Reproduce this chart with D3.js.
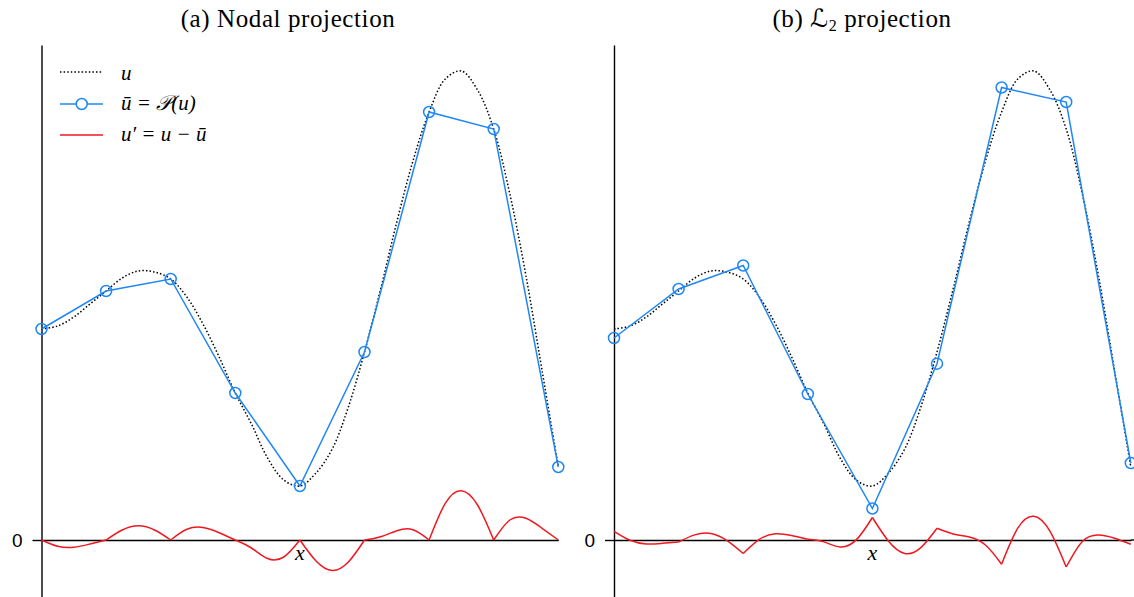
<!DOCTYPE html>
<html><head><meta charset="utf-8">
<script src="https://cdn.jsdelivr.net/npm/d3@7"></script>
<style>body{margin:0;background:#fff}svg{display:block}</style>
</head><body><svg id="c" width="1134" height="597"></svg>
<script>
// ---- data (y in arbitrary units, 0 = x-axis) ----
const panelTitles = ["(a) Nodal projection", "(b) ℒ₂ projection"];
const legendLabels = ["u", "ū = 𝒫(u)", "u′ = u − ū"];
const yTickValues = [0];
const yTickLabels = ["0"];
const xAxisLabel = "x";
const nodeX = [0, 1, 2, 3, 4, 5, 6, 7, 8];
const sampleX = [0, 0.25, 0.5, 0.75, 1, 1.25, 1.5, 1.75, 2, 2.25, 2.5, 2.75, 3, 3.25, 3.5, 3.75,
  4, 4.25, 4.5, 4.75, 5, 5.25, 5.5, 5.75, 6, 6.25, 6.5, 6.75, 7, 7.25, 7.5, 7.75, 8];
const uExact = [2.11, 2.14, 2.23, 2.36, 2.49, 2.62, 2.69, 2.68, 2.61, 2.43, 2.16, 1.83, 1.47, 1.16, 0.82, 0.60,
  0.54, 0.67, 0.91, 1.33, 1.88, 2.51, 3.18, 3.79, 4.28, 4.61, 4.69, 4.50, 4.11, 3.46, 2.64, 1.69, 0.73];
const nodalProjection = [2.11, 2.49, 2.61, 1.47, 0.54, 1.88, 4.28, 4.11, 0.73];
const l2Projection = [2.02, 2.51, 2.745, 1.46, 0.315, 1.763, 4.525, 4.38, 0.77];
const nodalResidual = [0, -0.063, -0.073, -0.04, 0, 0.10, 0.142, 0.10, 0, 0.107, 0.125, 0.073, 0, -0.08, -0.185, -0.17,
  0, -0.21, -0.305, -0.22, 0, 0.033, 0.093, 0.103, 0, 0.367, 0.493, 0.35, 0, 0.20, 0.217, 0.117, 0];
const l2Residual = [0.087, -0.003, -0.04, -0.033, -0.02, 0.051, 0.065, -0.006, -0.135, 0.007, 0.062, 0.045, 0.007, -0.019, -0.069, 0.001,
  0.225, -0.012, -0.134, -0.076, 0.117, 0.061, 0.031, -0.05, -0.242, 0.118, 0.238, 0.087, -0.27, -0.014, 0.05, 0.018, -0.043];

// ---- drawing ----
const BLUE = "#1f87f5", RED = "#f01820";
const SERIF = "'Liberation Serif', 'DejaVu Serif', serif";
const MATH = "'Liberation Serif', 'DejaVu Serif', 'DejaVu Sans', serif";
const svg = d3.select("#c");
const y = d3.scaleLinear().domain([-0.57, 4.95]).range([597, 45]);

const panels = [
  {left: 41.5, right: 558.3, axisEnd: 558.3, titleX: 288, title: panelTitles[0], proj: nodalProjection, res: nodalResidual, legend: true},
  {left: 614, right: 1130.8, axisEnd: 1134, titleX: 862, title: panelTitles[1], proj: l2Projection, res: l2Residual, legend: false}
];

panels.forEach((p, pi) => {
  const x = d3.scaleLinear().domain([nodeX[0], nodeX[nodeX.length - 1]]).range([p.left, p.right]);
  const g = svg.append("g");

  // x axis
  const xa = g.append("g").attr("transform", `translate(0,${y(0)})`)
    .call(d3.axisBottom(x).tickValues([]).tickSizeOuter(0));
  xa.select(".domain").attr("stroke", "#000").attr("stroke-width", 1.4);
  if (p.axisEnd > p.right) {
    g.append("line").attr("x1", p.right).attr("x2", p.axisEnd).attr("y1", y(0)).attr("y2", y(0))
      .attr("stroke", "#000").attr("stroke-width", 1.4);
  }
  // y axis
  const ya = g.append("g").attr("transform", `translate(${p.left},0)`)
    .call(d3.axisLeft(y).tickValues(yTickValues).tickFormat((d, i) => yTickLabels[i])
      .tickSize(9).tickPadding(10).tickSizeOuter(0));
  ya.select(".domain").attr("stroke", "#000").attr("stroke-width", 1.4);
  ya.selectAll(".tick line").attr("stroke", "#000").attr("stroke-width", 1.4);
  ya.selectAll(".tick text").attr("fill", "#000")
    .style("font-family", "'Liberation Sans', Arial, sans-serif").style("font-size", "19px");

  // exact function u (dotted)
  const uLine = d3.line().x(d => x(d[0])).y(d => y(d[1])).curve(d3.curveCatmullRom.alpha(0.5));
  g.append("path").datum(sampleX.map((s, i) => [s, uExact[i]]))
    .attr("d", uLine).attr("fill", "none").attr("stroke", "#000")
    .attr("stroke-width", 1.5).attr("stroke-dasharray", "1.5,2.1");

  // projection (blue, piecewise linear)
  const pLine = d3.line().x(d => x(d[0])).y(d => y(d[1]));
  const pData = nodeX.map((s, i) => [s, p.proj[i]]);
  g.append("path").datum(pData).attr("d", pLine).attr("fill", "none")
    .attr("stroke", BLUE).attr("stroke-width", 1.5);
  g.selectAll("circle.node").data(pData).join("circle").attr("class", "node")
    .attr("cx", d => x(d[0])).attr("cy", d => y(d[1])).attr("r", 5.5)
    .attr("fill", "none").attr("stroke", BLUE).attr("stroke-width", 1.5);

  // residual (red), smooth inside each element, kinks at nodes
  const rLine = d3.line().x(d => x(d[0])).y(d => y(d[1])).curve(d3.curveNatural);
  const rData = sampleX.map((s, i) => [s, p.res[i]]);
  for (let e = 0; e < nodeX.length - 1; e++) {
    g.append("path").datum(rData.slice(4 * e, 4 * e + 5)).attr("d", rLine)
      .attr("fill", "none").attr("stroke", RED).attr("stroke-width", 1.5);
  }

  // x label
  g.append("text").attr("x", x(4)).attr("y", 560).attr("text-anchor", "middle")
    .style("font-family", SERIF).style("font-style", "italic").style("font-size", "22px").text(xAxisLabel);

  // title
  const t = g.append("text").attr("x", p.titleX).attr("y", 27).attr("text-anchor", "middle")
    .style("font-family", SERIF).style("font-size", "25px").style("letter-spacing", "0.6px");
  if (pi === 0) {
    t.text(p.title);
  } else {
    t.append("tspan").text("(b) ");
    t.append("tspan").style("font-family", MATH).text("ℒ");
    t.append("tspan").attr("dy", 4).style("font-size", "16px").text("2");
    t.append("tspan").attr("dy", -4).text(" projection");
  }

  // legend
  if (p.legend) {
    const lg = g.append("g");
    const rows = [72, 104, 135];
    const base = [80, 110, 141];
    lg.append("line").attr("x1", 60).attr("x2", 103).attr("y1", rows[0]).attr("y2", rows[0])
      .attr("stroke", "#000").attr("stroke-width", 1.5).attr("stroke-dasharray", "1.5,2.1");
    lg.append("line").attr("x1", 60).attr("x2", 103).attr("y1", rows[1]).attr("y2", rows[1])
      .attr("stroke", BLUE).attr("stroke-width", 1.5);
    lg.append("circle").attr("cx", 81.7).attr("cy", rows[1]).attr("r", 5.5)
      .attr("fill", "#fff").attr("stroke", BLUE).attr("stroke-width", 1.5);
    lg.append("line").attr("x1", 60).attr("x2", 103).attr("y1", rows[2]).attr("y2", rows[2])
      .attr("stroke", RED).attr("stroke-width", 1.5);
    legendLabels.forEach((lab, i) => {
      lg.append("text").attr("x", 121).attr("y", base[i])
        .style("font-family", MATH).style("font-style", "italic").style("font-size", "21px")
        .attr("xml:space", "preserve").text(lab);
    });
  }
});
</script></body></html>
